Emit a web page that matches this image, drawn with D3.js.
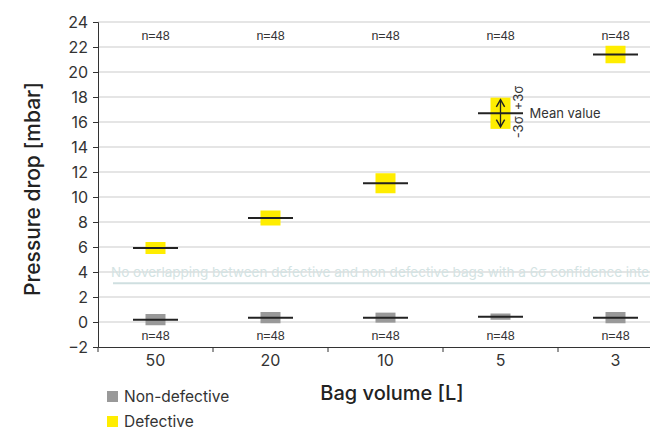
<!DOCTYPE html>
<meta charset="utf-8">
<style>
body { margin: 0; background: #fff; }
.tick text { font-family: Inter, "Open Sans", sans-serif; font-size: 16px; fill: #333; }
.nlab { font-family: "Liberation Sans", Arial, sans-serif; font-size: 12.5px; fill: #333; }
.title { font-family: Inter, "Open Sans", sans-serif; font-size: 20px; font-weight: 500; fill: #222; }
.legend { font-family: Inter, "Open Sans", sans-serif; font-size: 16px; fill: #333; }
</style>
<script src="https://d3js.org/d3.v7.min.js"></script>
<body>
<div id="chart"></div>
<script>
// bag volumes [L]
var categories = ["50", "20", "10", "5", "3"];
// defective bags: mean and 3 sigma
var defMean = [5.92, 8.32, 11.1, 16.7, 21.4];
var defSigma3 = [0.48, 0.6, 0.8, 1.25, 0.7];
// non-defective bags: mean and 3 sigma
var okMean = [0.19, 0.35, 0.35, 0.43, 0.35];
var okSigma3 = [0.45, 0.45, 0.4, 0.25, 0.45];
var sampleSize = [48, 48, 48, 48, 48];
var yTicks = [-2, 0, 2, 4, 6, 8, 10, 12, 14, 16, 18, 20, 22, 24];
var separation = 3.1; // separation line value

var width = 650, height = 430;

var svg = d3.select("#chart").append("svg")
    .attr("width", width)
    .attr("height", height);

var x = d3.scaleBand().domain(categories).range([98, 673]);
var y = d3.scaleLinear().domain([-2, 24]).range([347, 22]);

// gridlines
svg.append("g")
  .selectAll("line")
  .data(yTicks.filter(function(d) { return d > -2; }))
  .enter().append("line")
    .attr("x1", 98).attr("x2", 673)
    .attr("y1", function(d) { return y(d); })
    .attr("y2", function(d) { return y(d); })
    .attr("stroke", "#dcdcdc")
    .attr("stroke-width", 1.5);

// y axis
var yAxis = svg.append("g")
    .attr("transform", "translate(98,0)")
    .call(d3.axisLeft(y).tickValues(yTicks).tickSize(5).tickPadding(5));
yAxis.select(".domain").attr("stroke", "#333");
yAxis.selectAll(".tick line").attr("stroke", "#333");

// x axis
var xAxis = svg.append("g")
    .attr("transform", "translate(0," + y(-2) + ")")
    .call(d3.axisBottom(x).tickSize(0).tickPadding(8));
xAxis.select(".domain").attr("stroke", "#333");
// category boundary ticks
xAxis.selectAll(".bound")
  .data(categories)
  .enter().append("line")
    .attr("x1", function(d) { return x(d); })
    .attr("x2", function(d) { return x(d); })
    .attr("y1", 0).attr("y2", 5)
    .attr("stroke", "#333");

// separation annotation (runs past the right edge, as in the original)
svg.append("line")
    .attr("x1", 113).attr("x2", 673)
    .attr("y1", y(separation)).attr("y2", y(separation))
    .attr("stroke", "#cfdfe0")
    .attr("stroke-width", 2);
svg.append("text")
    .attr("x", 111).attr("y", y(separation) - 6)
    .style("font-family", "Inter, 'Open Sans', sans-serif")
    .style("font-size", "13.5px")
    .attr("fill", "#d3e3e3")
    .text("No overlapping between defective and non defective bags with a 6σ confidence interval");

var boxW = 20, lineW = 45;

function drawSeries(means, spreads, color) {
  var g = svg.append("g");
  g.selectAll("rect")
    .data(categories)
    .enter().append("rect")
      .attr("x", function(d) { return x(d) + x.bandwidth() / 2 - boxW / 2; })
      .attr("width", boxW)
      .attr("y", function(d, i) { return y(means[i] + spreads[i]); })
      .attr("height", function(d, i) { return y(means[i] - spreads[i]) - y(means[i] + spreads[i]); })
      .attr("fill", color);
  g.selectAll("line")
    .data(categories)
    .enter().append("line")
      .attr("x1", function(d) { return x(d) + x.bandwidth() / 2 - lineW / 2; })
      .attr("x2", function(d) { return x(d) + x.bandwidth() / 2 + lineW / 2; })
      .attr("y1", function(d, i) { return y(means[i]); })
      .attr("y2", function(d, i) { return y(means[i]); })
      .attr("stroke", "#222")
      .attr("stroke-width", 2);
}
drawSeries(okMean, okSigma3, "#999999");
drawSeries(defMean, defSigma3, "#ffed00");

// n labels
svg.append("g").selectAll("text")
  .data(categories)
  .enter().append("text")
    .attr("class", "nlab")
    .attr("x", function(d) { return x(d) + x.bandwidth() / 2; })
    .attr("y", 40)
    .attr("text-anchor", "middle")
    .text(function(d, i) { return "n=" + sampleSize[i]; });
svg.append("g").selectAll("text")
  .data(categories)
  .enter().append("text")
    .attr("class", "nlab")
    .attr("x", function(d) { return x(d) + x.bandwidth() / 2; })
    .attr("y", 340)
    .attr("text-anchor", "middle")
    .text(function(d, i) { return "n=" + sampleSize[i]; });

// sigma explanation on the 5 L bag
var ex = x("5") + x.bandwidth() / 2, ei = categories.indexOf("5");
svg.append("defs").append("marker")
    .attr("id", "head")
    .attr("viewBox", "0 0 10 10")
    .attr("refX", 8).attr("refY", 5)
    .attr("markerWidth", 8).attr("markerHeight", 8)
    .attr("orient", "auto-start-reverse")
  .append("path")
    .attr("d", "M1,1 L8,5 L1,9")
    .attr("fill", "none")
    .attr("stroke", "#222")
    .attr("stroke-width", 1.4);
svg.append("line")
    .attr("x1", ex).attr("x2", ex)
    .attr("y1", y(defMean[ei] + defSigma3[ei]) + 2)
    .attr("y2", y(defMean[ei] - defSigma3[ei]) - 2)
    .attr("stroke", "#222")
    .attr("stroke-width", 1.3)
    .attr("marker-start", "url(#head)")
    .attr("marker-end", "url(#head)");
svg.append("text")
    .attr("transform", "translate(" + (ex + 22) + "," + (y(defMean[ei]) - 3) + ") rotate(-90)")
    .attr("class", "legend").style("font-size", "13px")
    .text("+3σ");
svg.append("text")
    .attr("transform", "translate(" + (ex + 22) + "," + (y(defMean[ei]) + 3) + ") rotate(-90)")
    .attr("class", "legend").style("font-size", "13px")
    .attr("text-anchor", "end")
    .text("-3σ");
svg.append("text")
    .attr("x", ex + 29).attr("y", y(defMean[ei]) + 5)
    .attr("class", "legend").style("font-size", "13px")
    .text("Mean value");

// axis titles
svg.append("text")
    .attr("class", "title")
    .style("font-size", "21px")
    .attr("transform", "translate(40,189) rotate(-90)")
    .attr("text-anchor", "middle")
    .text("Pressure drop [mbar]");
svg.append("text")
    .attr("class", "title")
    .attr("x", 392).attr("y", 400)
    .attr("text-anchor", "middle")
    .text("Bag volume [L]");

// legend
var legendItems = [["Non-defective", "#999999"], ["Defective", "#ffed00"]];
var lg = svg.append("g").attr("transform", "translate(107,391)");
lg.selectAll("rect")
  .data(legendItems)
  .enter().append("rect")
    .attr("x", 0).attr("y", function(d, i) { return i * 25; })
    .attr("width", 11).attr("height", 11)
    .attr("fill", function(d) { return d[1]; });
lg.selectAll("text")
  .data(legendItems)
  .enter().append("text")
    .attr("class", "legend")
    .style("font-size", "15.5px")
    .attr("x", 17).attr("y", function(d, i) { return i * 25 + 11; })
    .text(function(d) { return d[0]; });
</script>
</body>
